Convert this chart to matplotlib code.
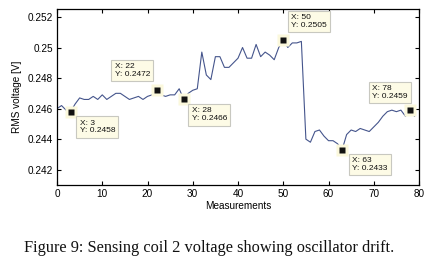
import matplotlib.pyplot as plt
import numpy as np

measurements = np.arange(80)
rms_voltage = np.array([
    0.2460, 0.2462, 0.2459, 0.2458, 0.2463, 0.2467, 0.2466, 0.2466, 0.2468, 0.2466,
    0.2469, 0.2466, 0.2468, 0.2470, 0.2470, 0.2468, 0.2466, 0.2467, 0.2468, 0.2466,
    0.2468, 0.2469, 0.2472, 0.2469, 0.2468, 0.2469, 0.2469, 0.2473, 0.2466, 0.2470,
    0.2472, 0.2473, 0.2497, 0.2482, 0.2479, 0.2494, 0.2494, 0.2487, 0.2487, 0.2490,
    0.2493, 0.2500, 0.2493, 0.2493, 0.2502, 0.2494, 0.2497, 0.2495, 0.2492, 0.2500,
    0.2505, 0.2500, 0.2503, 0.2503, 0.2504, 0.2440, 0.2438, 0.2445, 0.2446, 0.2442,
    0.2439, 0.2439, 0.2437, 0.2433, 0.2443, 0.2446, 0.2445, 0.2447, 0.2446, 0.2445,
    0.2448, 0.2451, 0.2455, 0.2458, 0.2459, 0.2458, 0.2459, 0.2455, 0.2459, 0.2455,
])

# data tips shown on the plot
tip_x = [3, 22, 28, 50, 63, 78]
tip_labels = ['0.2458', '0.2472', '0.2466', '0.2505', '0.2433', '0.2459']
tip_offsets = [(9, -8), (-42, 27), (8, -8), (8, 26), (10, -7), (-38, 25)]

xticks = [0, 10, 20, 30, 40, 50, 60, 70, 80]
yticks = [0.242, 0.244, 0.246, 0.248, 0.25, 0.252]
ytick_labels = ['0.242', '0.244', '0.246', '0.248', '0.25', '0.252']

plt.rcParams['font.family'] = ['Liberation Sans', 'DejaVu Sans']

fig = plt.figure(figsize=(4.28, 2.63), dpi=100)
ax = fig.add_axes([0.1332, 0.2966, 0.979 - 0.1332, 0.9646 - 0.2966])

ax.plot(measurements, rms_voltage, color='#45558c', lw=0.8)

tip_y = rms_voltage[tip_x]
ax.plot(tip_x, tip_y, 's', ms=8, color='#fbf8dc', mec='none', zorder=3)
ax.plot(tip_x, tip_y, 's', ms=4.2, color='#111111', mec='none', zorder=4)

for x, lab, off in zip(tip_x, tip_labels, tip_offsets):
    ax.annotate('X: %d\nY: %s' % (x, lab), xy=(x, rms_voltage[x]),
                xytext=off, textcoords='offset pixels', ha='left', va='top',
                fontsize=6, linespacing=1.15, color='#111111', zorder=5,
                bbox=dict(boxstyle='square,pad=0.4', fc='#fdfbe6', ec='#c8c8c0', lw=0.8))

ax.set_xlim(0, 80)
ax.set_ylim(0.241, 0.2525)
ax.set_xticks(xticks)
ax.set_yticks(yticks)
ax.set_yticklabels(ytick_labels)
ax.tick_params(direction='in', length=3, width=0.8, labelsize=7.2, top=True, right=True, pad=3)
for sp in ax.spines.values():
    sp.set_linewidth(0.9)

ax.set_xlabel('Measurements', fontsize=7.2, labelpad=1)
ax.set_ylabel('RMS voltage [V]', fontsize=7.2, labelpad=4)

fig.text(0.488, 1 - 248 / 263, 'Figure 9: Sensing coil 2 voltage showing oscillator drift.',
         ha='center', va='center', fontsize=11.8, family='Liberation Serif', color='#111111')

plt.savefig('out.png', dpi=100)
